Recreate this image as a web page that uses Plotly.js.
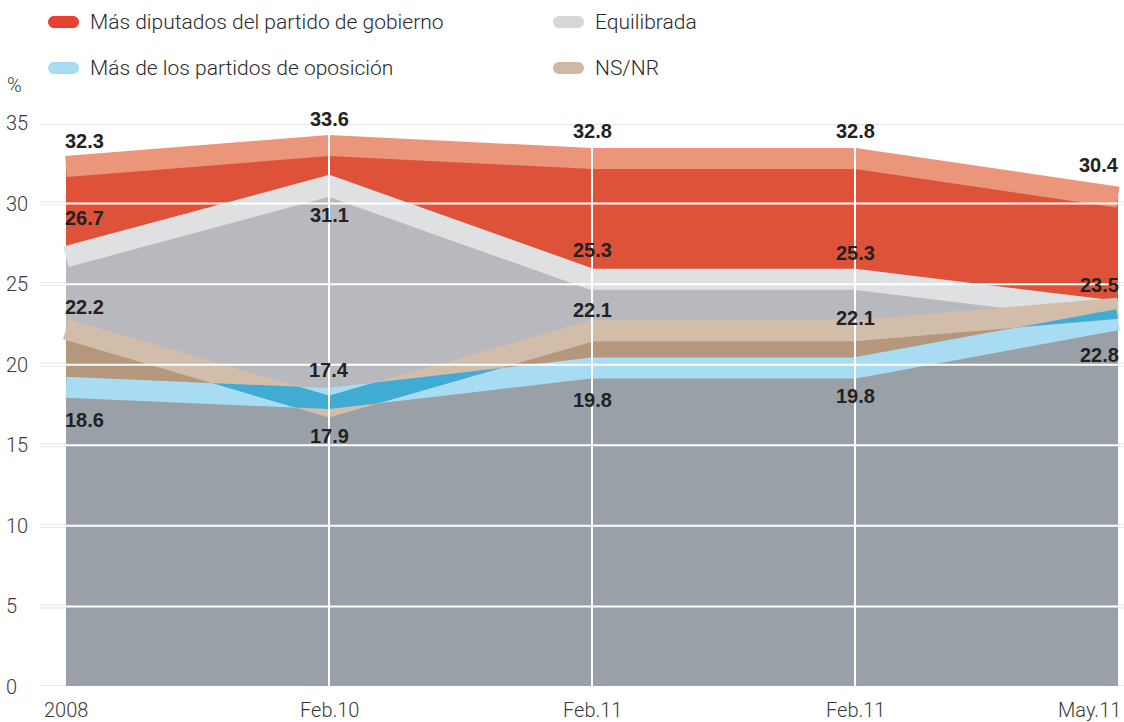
<!DOCTYPE html>
<html>
<head>
<meta charset="utf-8">
<script src="https://cdn.plot.ly/plotly-3.0.1.min.js"></script>
<style>
  html, body { margin: 0; padding: 0; background: #ffffff; }
  #chart { width: 1124px; height: 722px; }
</style>
</head>
<body>
<div id="chart"></div>
<script>
// ---------- data ----------
var categories = ['2008', 'Feb.10', 'Feb.11', 'Feb.11', 'May.11'];
var seriesNames = ['Más diputados del partido de gobierno', 'Equilibrada', 'Más de los partidos de oposición', 'NS/NR'];
var gobierno    = [32.3, 33.6, 32.8, 32.8, 30.4];
var equilibrada = [26.7, 31.1, 25.3, 25.3, 23.3];
var oposicion   = [18.6, 17.9, 19.8, 19.8, 22.8];
var nsnr        = [22.2, 17.4, 22.1, 22.1, 23.5];
var yTicks = [0, 5, 10, 15, 20, 25, 30, 35];
var yUnit = '%';

// ---------- styles ----------
var xIdx = categories.map(function (c, i) { return i; });
var BAND = 21;
var col = {
  redBand: '#eb957a', redFill: '#de523a', redKey: '#e8412f',
  greyBand: '#dfe0e2', greyFill: '#b8b9be', greyKey: '#d6d7d9',
  tanBand: '#d2bcaa', tanFill: '#b5977c', tanKey: '#cfb9a5',
  blueBand: '#a8dcf2', blueFill: '#99a0a8', blueKey: '#a6ddf5',
  overlap: '#40acd4'
};
// label offsets in px (positive = up), null = no label
var labelShift = {
  gobierno:    [26, 27, 27, 27, 32],
  equilibrada: [39, -29, 29, 26, null],
  nsnr:        [22, 37, 21, 13, 23],
  oposicion:   [-33, -37, -32, -28, -35]
};

var traces = [
  { x: xIdx, y: gobierno, type: 'scatter', mode: 'lines', fill: 'tozeroy',
    fillcolor: col.redFill, line: { color: col.redBand, width: BAND }, name: seriesNames[0] },
  { x: xIdx, y: equilibrada, type: 'scatter', mode: 'lines', fill: 'tozeroy',
    fillcolor: col.greyFill, line: { color: col.greyBand, width: BAND }, name: seriesNames[1] },
  { x: xIdx, y: nsnr, type: 'scatter', mode: 'lines', fill: 'tozeroy',
    fillcolor: col.tanFill, line: { color: col.tanFill, width: 0 }, name: seriesNames[3] + ' fill' },
  { x: xIdx, y: oposicion, type: 'scatter', mode: 'lines', fill: 'tozeroy',
    fillcolor: col.blueFill, line: { color: col.blueBand, width: BAND }, name: seriesNames[2] },
  { x: xIdx, y: nsnr, type: 'scatter', mode: 'lines',
    line: { color: col.tanBand, width: BAND }, name: seriesNames[3] }
];

// ---------- layout pieces ----------
var L = 40, R = 1124, T = 123, B = 687, W = 1124, H = 722;
function px2paperX(p) { return (p - L) / (R - L); }
function px2paperY(p) { return (B - p) / (B - T); }

var shapes = [];
yTicks.forEach(function (v) {
  shapes.push({ type: 'line', xref: 'paper', yref: 'y', x0: 0, x1: 1, y0: v, y1: v,
    layer: 'below', line: { color: '#e6e6e6', width: 4 } });
  shapes.push({ type: 'line', xref: 'paper', yref: 'y', x0: 0, x1: 1, y0: v, y1: v,
    layer: 'above', line: { color: '#ffffff', width: 2 } });
});
for (var i = 1; i < categories.length - 1; i++) {
  shapes.push({ type: 'line', xref: 'x', yref: 'y', x0: i, x1: i, y0: 0, y1: yTicks[yTicks.length - 1],
    layer: 'above', line: { color: '#ffffff', width: 2 } });
}

var annotations = [];
var tickFont = { family: 'Roboto, Liberation Sans, sans-serif', size: 20, color: '#3a3a3a', weight: 300 };
yTicks.forEach(function (v) {
  annotations.push({ xref: 'paper', yref: 'y', x: px2paperX(4), y: v, text: String(v),
    showarrow: false, xanchor: 'left', yanchor: 'middle', font: tickFont });
});
annotations.push({ xref: 'paper', yref: 'paper', x: px2paperX(5), y: px2paperY(85), text: yUnit,
  showarrow: false, xanchor: 'left', yanchor: 'middle', font: tickFont });
// x tick labels
categories.forEach(function (c, i) {
  var last = i === categories.length - 1;
  annotations.push({ xref: 'x', yref: 'paper', x: i, y: px2paperY(710), text: c, showarrow: false,
    xanchor: last ? 'right' : 'center', yanchor: 'middle', xshift: last ? 5 : 0, font: tickFont });
});

// legend
var legendItems = [
  { name: seriesNames[0], color: col.redKey,  x: 48,  y: 22 },
  { name: seriesNames[1], color: col.greyKey, x: 553, y: 22 },
  { name: seriesNames[2], color: col.blueKey, x: 48,  y: 68 },
  { name: seriesNames[3], color: col.tanKey,  x: 553, y: 68 }
];
var pill = 'M6,-6 H25 C28.3,-6 31,-3.3 31,0 C31,3.3 28.3,6 25,6 H6 C2.7,6 0,3.3 0,0 C0,-3.3 2.7,-6 6,-6 Z';
legendItems.forEach(function (it) {
  shapes.push({ type: 'path', xref: 'paper', yref: 'paper', xsizemode: 'pixel', ysizemode: 'pixel',
    xanchor: px2paperX(it.x), yanchor: px2paperY(it.y), path: pill,
    fillcolor: it.color, line: { width: 0 }, layer: 'above' });
  annotations.push({ xref: 'paper', yref: 'paper', x: px2paperX(it.x + 40), y: px2paperY(it.y),
    text: it.name, showarrow: false, xanchor: 'left', yanchor: 'middle',
    font: { family: 'Roboto, Liberation Sans, sans-serif', size: 21, color: '#2a2a2a', weight: 300 } });
});

// value labels
var labelFont = { family: 'Liberation Sans, Arial, sans-serif', size: 20, color: '#222222', weight: 700 };
function addLabels(values, shifts) {
  values.forEach(function (v, i) {
    if (shifts[i] === null) return;
    var last = i === values.length - 1;
    annotations.push({ xref: 'x', yref: 'y', x: i, y: v, text: v.toFixed(1), showarrow: false,
      xanchor: i === 0 ? 'left' : (last ? 'right' : 'center'), yanchor: 'middle',
      xshift: i === 0 ? -3 : (last ? 3 : 0), yshift: shifts[i], font: labelFont });
  });
}
addLabels(gobierno, labelShift.gobierno);
addLabels(equilibrada, labelShift.equilibrada);
addLabels(nsnr, labelShift.nsnr);
addLabels(oposicion, labelShift.oposicion);

var x0 = 0 - 26 / 263, x1 = (categories.length - 1) + 6 / 263;
var layout = {
  width: W, height: H,
  margin: { l: L, r: W - R, t: T, b: H - B, pad: 0 },
  paper_bgcolor: '#ffffff', plot_bgcolor: '#ffffff',
  showlegend: false,
  xaxis: { range: [x0, x1], showgrid: false, zeroline: false, showline: false, showticklabels: false,
    ticks: '', fixedrange: true },
  yaxis: { range: [0, 35], showgrid: false, zeroline: false, showline: false, showticklabels: false,
    ticks: '', fixedrange: true },
  shapes: shapes,
  annotations: annotations
};

var gd = document.getElementById('chart');
Plotly.newPlot(gd, traces, layout, { staticPlot: true, displayModeBar: false }).then(function () {
  try {
    var tr = gd.querySelectorAll('.scatterlayer .trace');
    var bluePath = tr[3].querySelector('.js-line');
    var tanPath = tr[4].querySelector('.js-line');
    if (!bluePath || !tanPath) return;
    var NS = 'http://www.w3.org/2000/svg';
    var defs = gd.querySelector('svg.main-svg defs');
    var mask = document.createElementNS(NS, 'mask');
    mask.setAttribute('id', 'bandOverlapMask');
    mask.setAttribute('maskUnits', 'userSpaceOnUse');
    mask.setAttribute('x', '-3000'); mask.setAttribute('y', '-3000');
    mask.setAttribute('width', '8000'); mask.setAttribute('height', '8000');
    var m = tanPath.cloneNode(false);
    m.style.stroke = '#ffffff'; m.style.fill = 'none'; m.style.opacity = 1;
    mask.appendChild(m);
    defs.appendChild(mask);
    var ov = bluePath.cloneNode(false);
    ov.style.stroke = col.overlap; ov.style.fill = 'none';
    ov.setAttribute('mask', 'url(#bandOverlapMask)');
    tanPath.parentNode.appendChild(ov);
  } catch (e) { console.log(e); }
});
</script>
</body>
</html>
